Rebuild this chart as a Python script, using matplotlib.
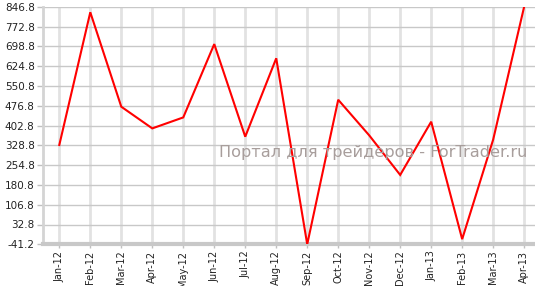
import numpy as np
import matplotlib.pyplot as plt

months = ['Jan-12', 'Feb-12', 'Mar-12', 'Apr-12', 'May-12', 'Jun-12', 'Jul-12', 'Aug-12',
          'Sep-12', 'Oct-12', 'Nov-12', 'Dec-12', 'Jan-13', 'Feb-13', 'Mar-13', 'Apr-13']
values = [330, 826, 473, 392, 433, 707, 361, 654,
          -41.2, 499, 366, 218, 417, -22, 350, 846.8]
yticks = [-41.2 + 74 * i for i in range(13)]

fig = plt.figure(figsize=(5.35, 2.86), dpi=100)
ax = fig.add_axes([43 / 535, 41.7 / 286, 492 / 535, 237.6 / 286])

x = np.arange(len(months))
ax.plot(x, values, color='#ff0000', lw=1.5, zorder=3, solid_joinstyle='miter')

ax.set_xlim(-0.526, 15.35)
ax.set_ylim(-41.2, 846.8)
ax.set_xticks(x)
ax.set_xticklabels(months, rotation=90)
ax.set_yticks(yticks)
ax.set_yticklabels(['%.1f' % v for v in yticks])

ax.grid(axis='y', color='#c8c8c8', lw=1, zorder=0)
ax.grid(axis='x', color='#e2e2e2', lw=2, zorder=0)
ax.set_axisbelow(True)

for s in ['top', 'right']:
    ax.spines[s].set_visible(False)
ax.spines['left'].set_color('#d4d4d4')
ax.spines['left'].set_linewidth(2)
ax.spines['bottom'].set_color('#c8c8c8')
ax.spines['bottom'].set_linewidth(3)

ax.tick_params(axis='y', colors='#c0c0c0', labelcolor='#222222', labelsize=7.5,
               length=4, width=1, pad=2)
ax.tick_params(axis='x', colors='#c0c0c0', labelcolor='#222222', labelsize=7,
               length=3, width=1, pad=1.5)

fig.text(527 / 535, 1 - 153 / 286, 'Портал для трейдеров - ForTrader.ru',
         color='#a89e9c', fontsize=11.6, ha='right', va='center')

fig.savefig('out.png', dpi=100)
